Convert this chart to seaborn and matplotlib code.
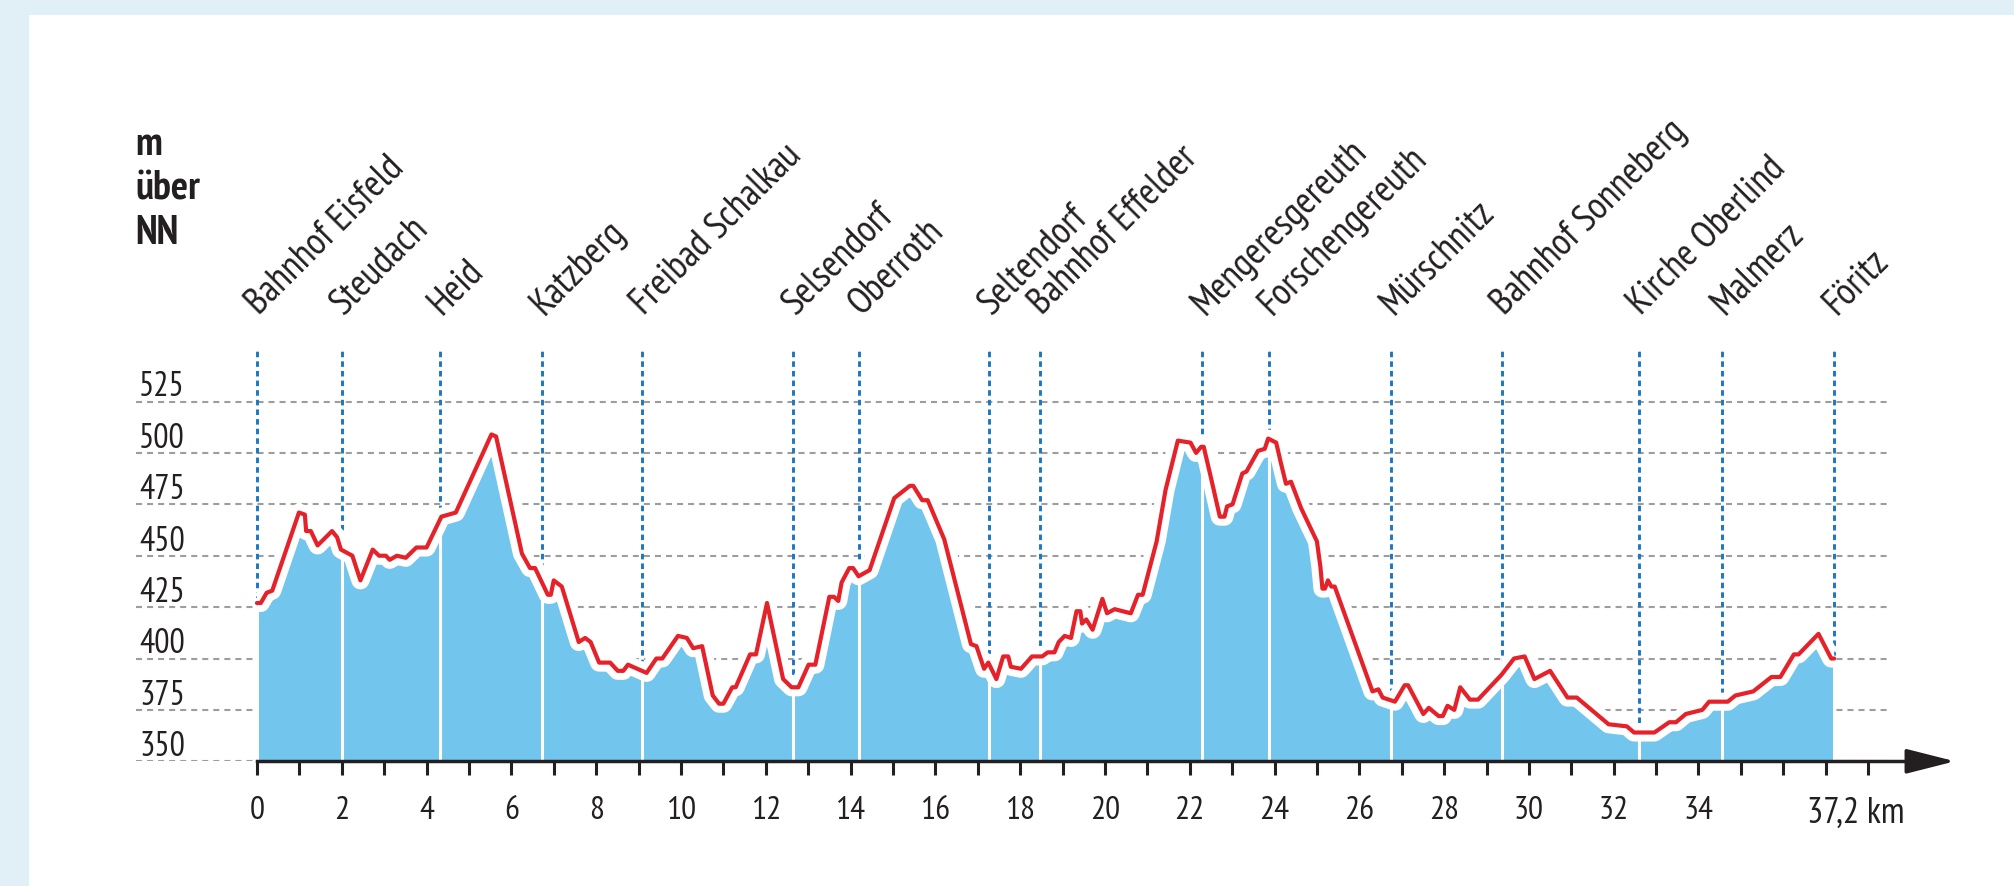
import matplotlib.pyplot as plt
import numpy as np
import seaborn as sns
from matplotlib.patches import Rectangle

# elevation profile (km, m above sea level)
km = [0, 0.09, 0.23, 0.36, 0.99, 1.13, 1.16, 1.27, 1.43, 1.77, 1.89, 1.98, 2.25, 2.44, 2.73,
      2.88, 3.04, 3.13, 3.30, 3.51, 3.76, 4.00, 4.35, 4.69, 5.53, 5.64, 6.25, 6.44, 6.56, 6.86,
      6.93, 7.00, 7.19, 7.59, 7.74, 7.87, 8.07, 8.33, 8.51, 8.64, 8.75, 9.19, 9.42, 9.56, 9.93,
      10.14, 10.29, 10.5, 10.75, 10.9, 11.0, 11.21, 11.29, 11.63, 11.77, 12.03, 12.41, 12.61,
      12.77, 13.01, 13.17, 13.5, 13.61, 13.71, 13.79, 13.97, 14.06, 14.19, 14.45, 15.03, 15.4,
      15.48, 15.69, 15.82, 16.21, 16.84, 16.97, 17.15, 17.25, 17.44, 17.6, 17.72, 17.78, 18.02,
      18.28, 18.52, 18.65, 18.81, 18.91, 19.05, 19.2, 19.33, 19.42, 19.46, 19.56, 19.71, 19.94,
      20.05, 20.23, 20.61, 20.78, 20.89, 21.22, 21.43, 21.72, 22.02, 22.15, 22.27, 22.33, 22.5,
      22.71, 22.82, 22.88, 23.01, 23.24, 23.34, 23.61, 23.77, 23.85, 24.04, 24.14, 24.27, 24.39,
      24.63, 25.0, 25.08, 25.13, 25.19, 25.26, 25.34, 25.42, 26.31, 26.45, 26.55, 26.84, 27.07,
      27.15, 27.51, 27.64, 27.87, 27.97, 28.08, 28.24, 28.38, 28.61, 28.8, 29.35, 29.65, 29.9,
      30.13, 30.5, 30.91, 31.13, 31.88, 32.31, 32.48, 32.96, 33.31, 33.47, 33.7, 34.09, 34.25,
      34.69, 34.87, 35.29, 35.72, 35.93, 36.25, 36.36, 36.83, 37.13, 37.2]
elev = [427, 427, 432, 433, 471, 470, 462, 462, 455, 462, 459, 453, 450, 438, 453,
        450, 450, 448, 450, 449, 454, 454, 469, 471, 509, 508, 451, 444, 444, 431,
        431, 438, 435, 408, 410, 408, 398, 398, 394, 394, 397, 393, 400, 400, 411,
        410, 405, 406, 382, 378, 378, 386, 386, 402, 402, 427, 390, 386,
        386, 397, 397, 430, 430, 428, 437, 444, 444, 440, 443, 478, 484,
        484, 477, 477, 458, 407, 406, 395, 398, 390, 401, 401, 396, 395,
        401, 401, 403, 403, 408, 411, 410, 423, 423, 417, 419, 414, 429,
        422, 424, 422, 431, 431, 457, 482, 506, 505, 500, 503, 503, 488,
        469, 469, 474, 475, 490, 491, 501, 502, 507, 505, 496, 485, 486,
        473, 457, 445, 434, 434, 438, 435, 435, 384, 385, 381, 379, 387,
        387, 373, 376, 372, 372, 377, 375, 386, 380, 380, 392, 400, 401,
        390, 394, 381, 381, 368, 367, 364, 364, 369, 369, 373, 375, 379,
        379, 382, 384, 391, 391, 402, 402, 412, 400, 400]

stops = ["Bahnhof Eisfeld", "Steudach", "Heid", "Katzberg", "Freibad Schalkau",
         "Selsendorf", "Oberroth", "Seltendorf", "Bahnhof Effelder", "Mengeresgereuth",
         "Forschengereuth", "Mürschnitz", "Bahnhof Sonneberg", "Kirche Oberlind",
         "Malmerz", "Föritz"]
stops_km = [0, 2.0, 4.31, 6.72, 9.09, 12.65, 14.2, 17.27, 18.47, 22.3, 23.88,
            26.75, 29.37, 32.6, 34.56, 37.2]

levels = [350, 375, 400, 425, 450, 475, 500, 525]
xticks = list(range(0, 39))
xlabels = [str(k) if k % 2 == 0 and k <= 34 else "" for k in xticks]

RED = "#e52229"
FILL = "#72c6ee"
BLUE = "#1a77c2"
GREY = "#9d9d9d"
INK = "#231f20"

sns.set_theme(style="white")
plt.rcParams["font.family"] = ["PT Sans Narrow", "Roboto Condensed", "Liberation Sans", "DejaVu Sans"]

fig = plt.figure(figsize=(20.15, 8.87), dpi=100)
fig.patch.set_facecolor("#e1f0f7")
fig.patches.append(Rectangle((29 / 2015, 0), 1, 1 - 16 / 887, transform=fig.transFigure,
                             facecolor="white", edgecolor="none", zorder=-5, figure=fig))

ax = fig.add_axes([0.0644, 0.1406, 0.9174, 0.8459])
ax.set_zorder(2)
ax.set_facecolor("none")
ax.set_xlim(-3.0, 40.6)
ax.set_ylim(350, 715)

# grid and markers
ax.hlines(levels, -2.85, 38.5, colors=GREY, linestyles=(0, (2.9, 2.4)), lw=1.5, zorder=1)
for lv in levels:
    ax.text(-2.78, lv + 3, str(lv), fontsize=24.5, color=INK, ha="left", va="baseline")
ax.vlines(stops_km, 350, 551, colors=BLUE, linestyles=(0, (1.9, 1.4)), lw=2.1, zorder=1.5)

# profile
ax.fill_between(km, 350, elev, color=FILL, lw=0, zorder=2)
ax.vlines(stops_km, 350, np.interp(stops_km, km, elev), colors="white", lw=2.2, zorder=2.5)
ax.plot(km, elev, color="white", lw=13, solid_joinstyle="round", solid_capstyle="butt", zorder=3)
sns.lineplot(x=km, y=elev, ax=ax, color=RED, lw=3.0, zorder=5, sort=False)

for name, k in zip(stops, stops_km):
    ax.text(k + 0.05, 567, name, rotation=45, rotation_mode="anchor", ha="left",
            va="baseline", fontsize=27.5, color=INK)

ax.text(-2.86, 598, "m\nüber\nNN", fontsize=29, fontweight="bold", color=INK,
        ha="left", va="bottom", linespacing=1.26)

# axis
for side in ["top", "right", "left"]:
    ax.spines[side].set_visible(False)
ax.spines["bottom"].set_bounds(0, 39.3)
ax.spines["bottom"].set_linewidth(2.5)
ax.spines["bottom"].set_color(INK)
ax.spines["bottom"].set_zorder(6)
ax.annotate("", xy=(40.05, 350), xytext=(38.9, 350), annotation_clip=False,
            arrowprops=dict(arrowstyle="-|>,head_length=1.5,head_width=0.38",
                            mutation_scale=20, color=INK, lw=2.5, shrinkA=0, shrinkB=0))
ax.set_xticks(xticks)
ax.set_xticklabels(xlabels)
ax.tick_params(axis="x", bottom=True, direction="out", length=10, width=2.2, color=INK,
               pad=14, labelsize=24, labelcolor=INK)
ax.set_yticks([])
ax.text(36.56, 325.3, "37,2 km", fontsize=26, color=INK, ha="left", va="center")
ax.set_xlabel("")
ax.set_ylabel("")

fig.savefig("out.png", dpi=100)
